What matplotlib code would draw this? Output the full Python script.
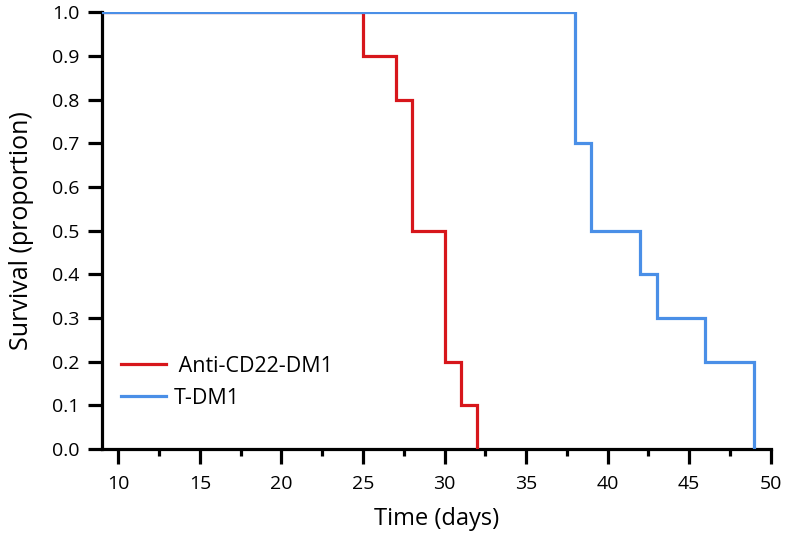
import matplotlib
matplotlib.use("Agg")
import matplotlib.pyplot as plt
from matplotlib.ticker import MultipleLocator

plt.rcParams['font.family'] = ['Open Sans', 'DejaVu Sans']

# Data: Kaplan-Meier step curves (time in days, survival proportion)
red_label = " Anti-CD22-DM1"
red_times = [9, 25, 27, 28, 30, 31, 32]
red_surv = [1.0, 0.9, 0.8, 0.5, 0.2, 0.1, 0.0]

blue_label = "T-DM1"
blue_times = [9, 38, 39, 42, 43, 46, 49]
blue_surv = [1.0, 0.7, 0.5, 0.4, 0.3, 0.2, 0.0]

x_ticks = [10, 15, 20, 25, 30, 35, 40, 45, 50]
y_ticks = [0.0, 0.1, 0.2, 0.3, 0.4, 0.5, 0.6, 0.7, 0.8, 0.9, 1.0]

fig = plt.figure(figsize=(7.86, 5.36), dpi=100)
ax = fig.add_axes([0.1298, 0.1623, 0.9805 - 0.1298, 0.9767 - 0.1623])

ax.step(red_times, red_surv, where='post', color='#D7161B', lw=2.3, label=red_label,
        solid_joinstyle='miter', zorder=3)
ax.step(blue_times, blue_surv, where='post', color='#4A8FE7', lw=2.3, label=blue_label,
        solid_joinstyle='miter', zorder=4)

ax.set_xlim(9, 50)
ax.set_ylim(0, 1.0)
ax.set_xticks(x_ticks)
ax.set_yticks(y_ticks)
ax.set_yticklabels([f"{v:.1f}" for v in y_ticks])
ax.xaxis.set_minor_locator(MultipleLocator(2.5))

for s in ['top', 'right']:
    ax.spines[s].set_visible(False)
for s in ['left', 'bottom']:
    ax.spines[s].set_linewidth(2.3)
    ax.spines[s].set_capstyle('projecting')

ax.tick_params(axis='x', which='major', length=10.5, width=2.3, direction='out',
               labelsize=14, colors='black', pad=8)
ax.tick_params(axis='y', which='major', length=10, width=2.3, direction='out',
               labelsize=14, colors='black', pad=6.5)
ax.tick_params(axis='x', which='minor', length=5, width=2.3, direction='out')
ax.tick_params(axis='y', which='minor', length=0)

ax.set_xlabel("Time (days)", fontsize=17, labelpad=10)
ax.set_ylabel("Survival (proportion)", fontsize=18, labelpad=13)

leg = ax.legend(loc='center left', bbox_to_anchor=(0.028, 0.153), frameon=False,
                fontsize=15.5, handlelength=2.1, handletextpad=0.35, labelspacing=0.52,
                borderaxespad=0.0, borderpad=0.0)

fig.savefig("out.png", dpi=100)
